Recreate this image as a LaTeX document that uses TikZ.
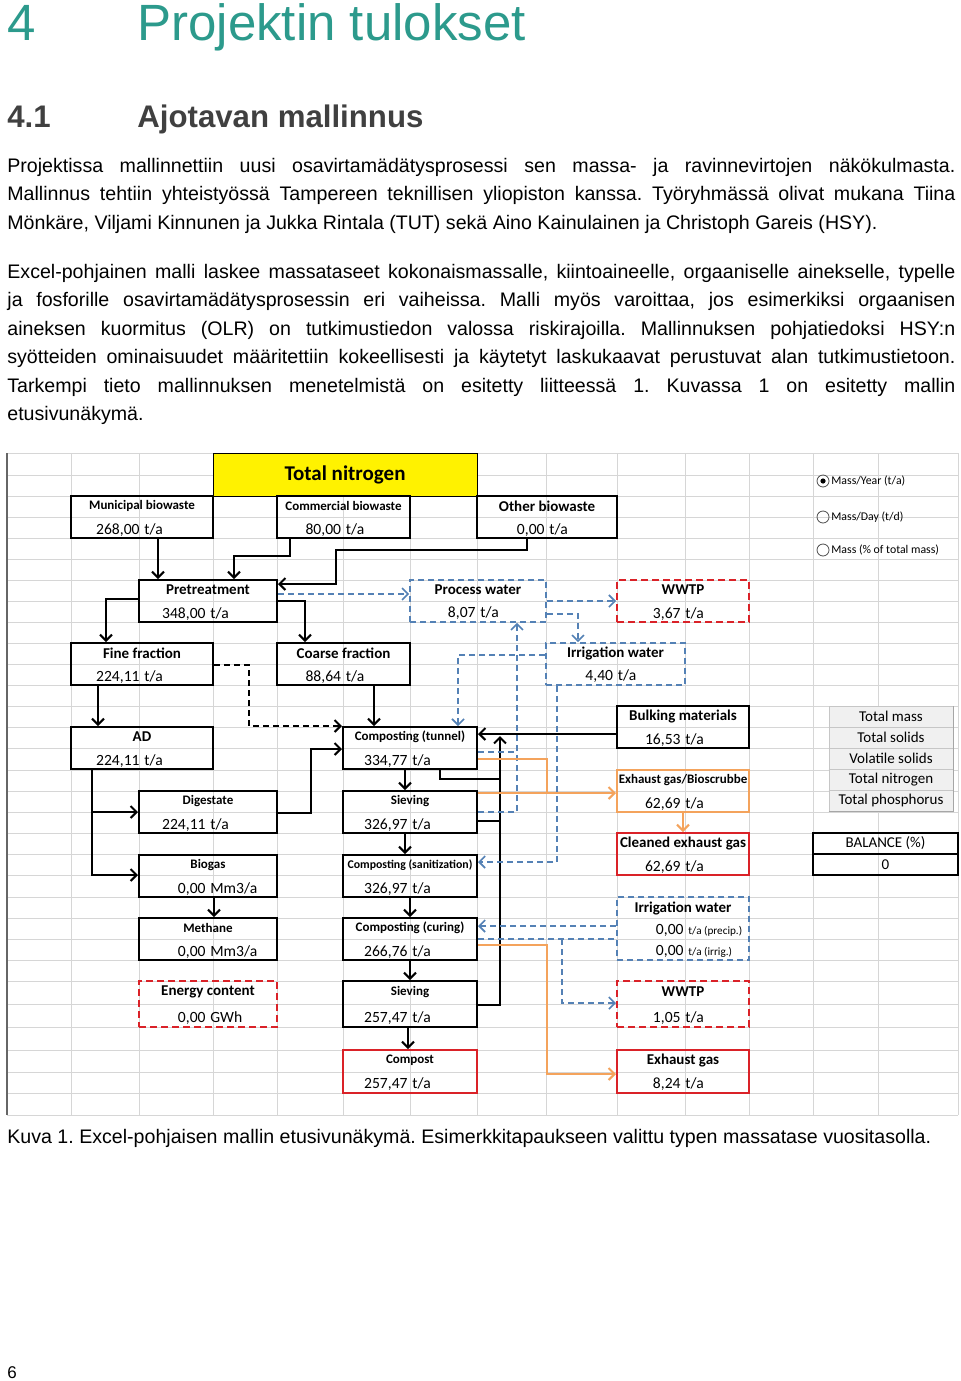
\documentclass[tikz,border=0pt]{standalone}
\usepackage{fontspec}
\setmainfont{Liberation Sans}
\newfontfamily\xl{Carlito}
\usetikzlibrary{arrows.meta,calc,fit}
\frenchspacing
\definecolor{turkoosi}{RGB}{44,154,140}
\definecolor{harmaa}{RGB}{64,64,64}
\definecolor{vsin}{RGB}{84,129,181}
\definecolor{pun}{RGB}{218,34,40}
\definecolor{oranssi}{RGB}{244,163,92}
\definecolor{ruutu}{RGB}{214,214,214}
\newcommand{\pk}{\fontsize{6.5pt}{8pt}\selectfont}
\newcommand{\pkk}{\fontsize{5.9pt}{7pt}\selectfont}
\tikzset{
  teksti/.style={anchor=base west,inner sep=0pt,font=\fontsize{9.8pt}{12pt}\selectfont},
  ruudukko/.style={ruutu,line width=0.5pt},
  musta/.style={draw=black,line width=1pt,inner sep=0pt},
  vesi/.style={draw=vsin,line width=0.8pt,dash pattern=on 3pt off 2pt,inner sep=0pt},
  jate/.style={draw=pun,line width=1pt,dash pattern=on 3.5pt off 2pt,inner sep=0pt},
  tuote/.style={draw=pun,line width=1pt,inner sep=0pt},
  kaasu/.style={draw=oranssi,line width=1pt,inner sep=0pt},
  otsake/.style={inner sep=0pt,font=\xl\bfseries\fontsize{7.5pt}{9pt}\selectfont},
  luku/.style={inner sep=0pt,font=\xl\fontsize{7.8pt}{9pt}\selectfont},
  nappi/.style={draw=gray!45,fill=gray!12,inner sep=0pt,font=\xl\fontsize{7.5pt}{9pt}\selectfont},
  virta/.style={->,>={Straight Barb[length=3pt,width=6pt]},line width=1pt},
  vvirta/.style={->,>={Straight Barb[length=3pt,width=6pt]},vsin,line width=0.8pt,dash pattern=on 3pt off 2pt},
  kvirta/.style={->,>={Straight Barb[length=3pt,width=6pt]},oranssi,line width=1pt}
}
% box: name, style, corner, corner, header, number, unit
\newcommand{\laatikko}[7]{%
  \node[#2,fit={#3 #4}] (#1) {};
  \node[otsake] (#1-o) at ($(#1.north)!0.25!(#1.south)$) {#5};
  \node[luku,anchor=base east] (#1-n) at ($(#1.north)!0.75!(#1.south)+(-2,6)$) {#6};
  \node[luku,anchor=base west] (#1-y) at ($(#1.north)!0.75!(#1.south)+(2,6)$) {#7};
}
\newcommand{\rivi}[3]{\node[teksti] (#1) at (7,#2) {\makebox[474pt][s]{#3}};}

\begin{document}
\begin{tikzpicture}[x=0.5pt,y=-0.5pt]
\useasboundingbox[fill=white] (0,0) rectangle (960,1381);

% otsikot
\node[anchor=base west,inner sep=0pt,turkoosi,font=\fontsize{25.5pt}{30pt}\selectfont] (luku4) at (7,40) {4};
\node[anchor=base west,inner sep=0pt,turkoosi,font=\fontsize{25.5pt}{30pt}\selectfont] (otsikko4) at (137,40) {Projektin tulokset};
\node[anchor=base west,inner sep=0pt,harmaa,font=\bfseries\fontsize{15.6pt}{18pt}\selectfont] (luku41) at (7,127) {4.1};
\node[anchor=base west,inner sep=0pt,harmaa,font=\bfseries\fontsize{15.6pt}{18pt}\selectfont] (otsikko41) at (137,127) {Ajotavan mallinnus};

% leipateksti
\rivi{r1}{172}{Projektissa mallinnettiin uusi osavirtamädätysprosessi sen massa- ja ravinnevirtojen näkökulmasta.}
\rivi{r2}{200.5}{Mallinnus tehtiin yhteistyössä Tampereen teknillisen yliopiston kanssa. Työryhmässä olivat mukana Tiina}
\node[teksti] (r3) at (7,229) {Mönkäre, Viljami Kinnunen ja Jukka Rintala (TUT) sekä Aino Kainulainen ja Christoph Gareis (HSY).};
\rivi{r4}{278}{Excel-pohjainen malli laskee massataseet kokonaismassalle, kiintoaineelle, orgaaniselle ainekselle, typelle}
\rivi{r5}{306.5}{ja fosforille osavirtamädätysprosessin eri vaiheissa. Malli myös varoittaa, jos esimerkiksi orgaanisen}
\rivi{r6}{335}{aineksen kuormitus (OLR) on tutkimustiedon valossa riskirajoilla. Mallinnuksen pohjatiedoksi HSY:n}
\rivi{r7}{363.5}{syötteiden ominaisuudet määritettiin kokeellisesti ja käytetyt laskukaavat perustuvat alan tutkimustietoon.}
\rivi{r8}{392}{Tarkempi tieto mallinnuksen menetelmistä on esitetty liitteessä 1. Kuvassa 1 on esitetty mallin}
\node[teksti] (r9) at (7,420.5) {etusivunäkymä.};

% taulukon ruudukko
\foreach \x in {71,139,213,277,343,410,477,546,617,685,749,813,878,958}
  \draw[ruudukko] (\x,453) -- (\x,1115);
\foreach \y in {453,475,496,517,538,559,580,601,622,643,664,685,706,727,748,770,791,812,833,854,875,897,918,939,960,981,1004,1027,1050,1072,1093,1115}
  \draw[ruudukko] (7,\y) -- (958,\y);
\draw[gray!80!black,line width=0.8pt] (7,453) -- (7,1115);

% otsikkosolu
\node[fill=yellow,draw=black,line width=0.4pt,inner sep=0pt,fit={(213,453) (477,496)},
  label={[font=\xl\bfseries\fontsize{10.5pt}{12pt}\selectfont]center:Total nitrogen}] (suure) {};

% valinnat
\node[circle,draw=black!70,line width=0.4pt,minimum size=6pt,inner sep=0pt] (v1) at (823,481) {};
\node[circle,fill=black,minimum size=2.6pt,inner sep=0pt] (v1p) at (v1) {};
\node[circle,draw=black!70,line width=0.4pt,minimum size=6pt,inner sep=0pt] (v2) at (823,517) {};
\node[circle,draw=black!70,line width=0.4pt,minimum size=6pt,inner sep=0pt] (v3) at (823,550) {};
\node[anchor=west,inner sep=0pt,font=\xl\fontsize{5.9pt}{7pt}\selectfont] (v1t) at (831,481) {Mass/Year (t/a)};
\node[anchor=west,inner sep=0pt,font=\xl\fontsize{5.9pt}{7pt}\selectfont] (v2t) at (831,517) {Mass/Day (t/d)};
\node[anchor=west,inner sep=0pt,font=\xl\fontsize{5.9pt}{7pt}\selectfont] (v3t) at (831,550) {Mass (\% of total mass)};

% syotteet
\laatikko{mun}{musta}{(71,496)}{(213,538)}{\pk Municipal biowaste}{268,00}{t/a}
\laatikko{kaup}{musta}{(277,496)}{(410,538)}{\pk Commercial biowaste}{80,00}{t/a}
\laatikko{muu}{musta}{(477,496)}{(617,538)}{Other biowaste}{0,00}{t/a}

\laatikko{esik}{musta}{(139,580)}{(277,622)}{Pretreatment}{348,00}{t/a}
\laatikko{prosv}{vesi}{(410,580)}{(546,622)}{Process water}{8,07}{t/a}
\laatikko{jvp1}{jate}{(617,580)}{(749,622)}{WWTP}{3,67}{t/a}
\laatikko{hieno}{musta}{(71,643)}{(213,685)}{Fine fraction}{224,11}{t/a}
\laatikko{karkea}{musta}{(277,643)}{(410,685)}{Coarse fraction}{88,64}{t/a}
\laatikko{kastv1}{vesi}{(546,643)}{(685,685)}{Irrigation water}{4,40}{t/a}

\laatikko{ad}{musta}{(71,727)}{(213,769)}{AD}{224,11}{t/a}
\laatikko{tunneli}{musta}{(343,727)}{(477,769)}{\pk Composting (tunnel)}{334,77}{t/a}
\laatikko{tukiaine}{musta}{(617,706)}{(749,748)}{Bulking materials}{16,53}{t/a}
\laatikko{mada}{musta}{(139,791)}{(277,833)}{\pk Digestate}{224,11}{t/a}
\laatikko{seul1}{musta}{(343,791)}{(477,833)}{\pk Sieving}{326,97}{t/a}
\laatikko{pako1}{kaasu}{(617,770)}{(749,812)}{\pk Exhaust gas/Bioscrubbe}{62,69}{t/a}
\laatikko{biokaasu}{musta}{(139,855)}{(277,897)}{\pk Biogas}{0,00}{Mm3/a}
\laatikko{hyg}{musta}{(343,855)}{(477,897)}{\pkk Composting (sanitization)}{326,97}{t/a}
\laatikko{puhd}{tuote}{(617,833)}{(749,875)}{Cleaned exhaust gas}{62,69}{t/a}
\laatikko{metaani}{musta}{(139,918)}{(277,960)}{\pk Methane}{0,00}{Mm3/a}
\laatikko{jalki}{musta}{(343,918)}{(477,960)}{\pk Composting (curing)}{266,76}{t/a}
\laatikko{energia}{jate}{(139,981)}{(277,1027)}{Energy content}{0,00}{GWh}
\laatikko{seul2}{musta}{(343,981)}{(477,1027)}{\pk Sieving}{257,47}{t/a}
\laatikko{jvp2}{jate}{(617,981)}{(749,1027)}{WWTP}{1,05}{t/a}
\laatikko{komposti}{tuote}{(343,1050)}{(477,1093)}{\pk Compost}{257,47}{t/a}
\laatikko{pako2}{tuote}{(617,1050)}{(749,1093)}{Exhaust gas}{8,24}{t/a}

% kastelu (kolme rivia)
\node[vesi,fit={(617,897) (749,960)}] (kastv2) {};
\node[otsake] (kastv2-o) at (683,908) {Irrigation water};
\node[luku,anchor=base east] (kastv2-n1) at (684,934) {0,00};
\node[luku,anchor=base west,font=\xl\fontsize{5.6pt}{7pt}\selectfont] (kastv2-y1) at (688,934) {t/a (precip.)};
\node[luku,anchor=base east] (kastv2-n2) at (684,955) {0,00};
\node[luku,anchor=base west,font=\xl\fontsize{5.6pt}{7pt}\selectfont] (kastv2-y2) at (688,955) {t/a (irrig.)};

% valintanapit
\foreach \n/\t [count=\i] in {massa/Total mass,kuiva/Total solids,haihtuva/Volatile solids,typpi/Total nitrogen,fosfori/Total phosphorus}{
  \node[nappi,fit={(829,685+21*\i) (953,706+21*\i)},
    label={[font=\xl\fontsize{7.5pt}{9pt}\selectfont]center:\t}] (\n) {};
  \draw[gray!70,line width=0.8pt] (\n.south west) -- (\n.south east) -- (\n.north east);
}

% tase
\node[musta,fit={(813,833) (958,875)}] (tase) {};
\draw[line width=1pt] (tase.west) -- (tase.east);
\node[luku,font=\xl\fontsize{7.5pt}{9pt}\selectfont] (tase-o) at ($(tase.north)!0.25!(tase.south)$) {BALANCE (\%)};
\node[luku,font=\xl\fontsize{7.5pt}{9pt}\selectfont] (tase-n) at ($(tase.north)!0.75!(tase.south)$) {0};

% kiinteat virrat
\draw[virta] (158,0 |- mun.south) -- (158,0 |- esik.north);
\draw[virta] (290,0 |- kaup.south) -- (290,556) -| (234,0 |- esik.north);
\draw[virta] (527,0 |- muu.south) |- (336,550) |- (esik.east |- 0,584);
\draw[virta] (esik.west |- 0,599) -| (106,0 |- hieno.north);
\draw[virta] (esik.east |- 0,601) -| (305,0 |- karkea.north);
\draw[virta] (98,0 |- hieno.south) -- (98,0 |- ad.north);
\draw[virta] (374,0 |- karkea.south) -- (374,0 |- tunneli.north);
\draw[virta] (92,0 |- ad.south) |- (mada.west |- 0,812);
\draw[virta] (92,812) |- (biokaasu.west |- 0,875);
\draw[virta] (mada.east |- 0,813) -| (311,749) -- (tunneli.west |- 0,749);
\draw[virta] (214,0 |- biokaasu.south) -- (214,0 |- metaani.north);
\draw[virta] (405,0 |- tunneli.south) -- (405,0 |- seul1.north);
\draw[virta] (405,0 |- seul1.south) -- (405,0 |- hyg.north);
\draw[virta] (410,0 |- hyg.south) -- (410,0 |- jalki.north);
\draw[virta] (410,0 |- jalki.south) -- (410,0 |- seul2.north);
\draw[virta] (408,0 |- seul2.south) -- (408,0 |- komposti.north);
\draw[virta] (tukiaine.west |- 0,734) -- (tunneli.east |- 0,734);
% kierratys
\draw[line width=1pt] (440,0 |- tunneli.south) |- (500,779);
\draw[line width=1pt] (seul1.east |- 0,821) -- (500,821);
\draw[virta] (seul2.east |- 0,1005) -| (500,736);
\draw[virta,dash pattern=on 3pt off 2pt] (hieno.east |- 0,665) -| (249,726) -- (tunneli.west |- 0,726);

% vesivirrat
\draw[vvirta] (esik.east |- 0,594) -- (prosv.west |- 0,594);
\draw[vvirta] (prosv.east |- 0,601) -- (jvp1.west |- 0,601);
\draw[vvirta] (prosv.east |- 0,614) -| (578,0 |- kastv1.north);
\draw[vvirta] (kastv1.west |- 0,655) -| (458,0 |- tunneli.north);
\draw[vvirta] (tunneli.east |- 0,752) -| (517,0 |- prosv.south);
\draw[vsin,line width=0.8pt,dash pattern=on 3pt off 2pt] (seul1.east |- 0,812) -| (517,752);
\draw[vvirta] (557,0 |- kastv1.south) |- (hyg.east |- 0,862);
\draw[vvirta] (kastv2.west |- 0,926) -- (jalki.east |- 0,926);
\draw[vsin,line width=0.8pt,dash pattern=on 3pt off 2pt] (jalki.east |- 0,939) -- (kastv2.west |- 0,939);
\draw[vvirta] (562,939) |- (jvp2.west |- 0,1003);

% kaasuvirrat
\draw[kvirta] (tunneli.east |- 0,759) -| (547,793) -- (pako1.west |- 0,793);
\draw[oranssi,line width=1pt] (seul1.east |- 0,793) -- (547,793);
\draw[kvirta] (pako1.south) -- (puhd.north);
\draw[kvirta] (jalki.east |- 0,945) -| (547,1074) -- (pako2.west |- 0,1074);

% kuvateksti
\node[teksti] (kuvateksti) at (7,1143) {Kuva 1. Excel-pohjaisen mallin etusivunäkymä. Esimerkkitapaukseen valittu typen massatase vuositasolla.};
\node[teksti,font=\fontsize{8.5pt}{10pt}\selectfont] (sivu) at (7,1378) {6};
\end{tikzpicture}
\end{document}
